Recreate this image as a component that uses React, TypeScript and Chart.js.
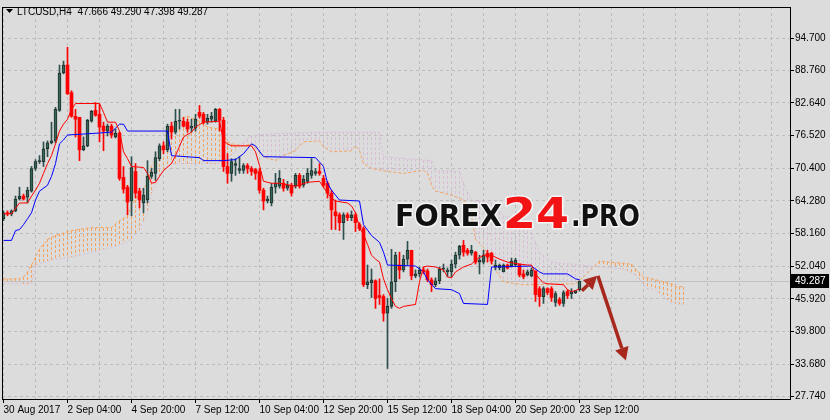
import React, { useEffect, useRef } from 'react';
import { Chart, registerables } from 'chart.js';

Chart.register(...registerables);

// ---------- text ----------
const symbolTitle = 'LTCUSD,H4';
const lastQuote = ['47.666', '49.290', '47.398', '49.287'];
const xTickBars = [0, 16, 32, 48, 64, 80, 96, 112, 128, 144];
const xTickLabels = ['30 Aug 2017', '2 Sep 04:00', '4 Sep 20:00', '7 Sep 12:00', '10 Sep 04:00', '12 Sep 20:00', '15 Sep 12:00', '18 Sep 04:00', '20 Sep 20:00', '23 Sep 12:00'];
const yTickValues = [94.7, 88.76, 82.64, 76.52, 70.4, 64.28, 58.16, 52.04, 45.92, 39.8, 33.68, 27.74];

// ---------- candles (H4) ----------
const opens = [60.95, 62.06, 61.87, 62.42, 64.64, 65.19, 65.01, 66.11, 70.36, 71.65,
  71.65, 74.05, 75.15, 75.52, 81.24, 88.25, 89.73, 84.56, 80.14, 79.95,
  73.86, 74.60, 79.21, 81.24, 80.51, 78.29, 77.37, 78.29, 76.26, 77.00,
  68.70, 66.85, 64.27, 69.80, 66.11, 63.90, 64.45, 68.88, 69.44, 72.20,
  74.60, 73.86, 78.29, 77.18, 79.21, 79.21, 79.03, 77.92, 77.92, 80.87,
  80.51, 79.03, 79.58, 79.21, 81.43, 79.40, 70.73, 69.44, 70.91, 69.99,
  69.99, 70.91, 70.36, 70.17, 69.80, 66.30, 64.27, 63.90, 66.85, 67.04,
  67.59, 66.67, 67.22, 67.04, 69.07, 67.22, 67.96, 69.07, 69.44, 69.80,
  68.51, 67.59, 65.75, 62.24, 61.69, 60.21, 61.69, 61.13, 61.69, 59.84,
  59.10, 48.59, 48.96, 49.33, 46.56, 46.37, 43.24, 44.53, 49.14, 52.28,
  51.35, 53.38, 55.04, 50.25, 50.62, 51.35, 51.17, 49.51, 48.59, 49.33,
  51.54, 50.99, 50.99, 52.46, 54.12, 55.97, 55.04, 54.49, 54.68, 52.83,
  52.83, 54.49, 54.49, 51.91, 51.72, 50.99, 52.28, 52.09, 52.28, 52.46,
  50.62, 50.43, 50.25, 51.17, 47.85, 46.37, 47.85, 47.85, 45.27, 45.82,
  45.08, 47.30, 46.93, 47.11, 47.666];
const highs = [62.42, 62.42, 62.61, 65.19, 66.85, 65.56, 66.85, 70.73, 72.02, 72.76,
  75.34, 75.52, 79.03, 81.80, 89.73, 90.47, 93.05, 84.93, 81.43, 79.95,
  76.26, 79.58, 81.24, 82.72, 82.35, 79.03, 78.66, 78.66, 77.74, 77.18,
  70.73, 67.22, 72.57, 71.28, 66.67, 66.67, 71.83, 70.36, 73.49, 74.97,
  75.34, 78.66, 79.03, 81.43, 81.43, 79.95, 79.58, 79.58, 80.51, 82.17,
  80.87, 80.51, 80.87, 81.61, 81.61, 79.95, 73.13, 72.20, 72.20, 72.57,
  71.28, 71.28, 70.73, 70.36, 70.36, 66.67, 65.19, 67.59, 69.44, 69.99,
  68.33, 67.96, 67.59, 69.44, 69.44, 69.07, 70.36, 72.20, 70.36, 71.28,
  69.07, 67.96, 66.30, 64.45, 62.06, 62.06, 62.06, 62.42, 62.06, 60.21,
  59.47, 52.28, 51.54, 49.51, 49.69, 46.74, 46.00, 55.23, 54.68, 54.68,
  54.12, 56.70, 55.04, 51.35, 51.91, 51.91, 51.54, 49.88, 49.88, 51.91,
  52.46, 51.72, 53.20, 54.68, 55.97, 56.89, 55.41, 55.97, 54.86, 54.12,
  55.04, 55.04, 54.68, 53.20, 52.46, 52.46, 52.46, 53.57, 53.57, 52.46,
  51.35, 51.35, 51.72, 51.17, 48.22, 48.22, 48.03, 48.22, 47.30, 46.19,
  47.48, 47.66, 47.85, 47.48, 49.290];
const lows = [60.58, 61.50, 61.50, 62.24, 64.45, 64.45, 63.90, 65.93, 69.99, 71.28,
  70.73, 72.57, 74.97, 75.15, 81.06, 88.07, 84.19, 79.95, 76.26, 71.83,
  73.68, 74.42, 79.03, 80.14, 75.34, 73.68, 76.45, 76.08, 76.08, 68.14,
  65.75, 61.69, 61.50, 64.82, 62.98, 62.06, 63.90, 68.51, 68.14, 71.83,
  73.13, 73.49, 75.89, 76.82, 77.74, 78.11, 77.18, 77.18, 77.37, 79.77,
  78.66, 78.66, 79.03, 79.03, 77.37, 69.80, 67.59, 67.96, 69.07, 69.44,
  69.44, 69.44, 69.07, 68.33, 65.75, 62.61, 63.90, 63.35, 65.75, 66.67,
  66.11, 66.30, 65.19, 66.67, 66.67, 66.85, 67.59, 68.51, 69.07, 69.07,
  66.85, 64.82, 58.92, 58.92, 58.73, 57.07, 60.58, 60.58, 58.55, 58.73,
  48.22, 47.85, 46.19, 44.16, 44.90, 41.76, 32.90, 44.16, 47.30, 49.69,
  50.99, 52.28, 49.51, 49.88, 50.06, 50.62, 49.14, 47.30, 48.22, 48.77,
  50.99, 50.06, 50.06, 51.72, 53.38, 53.94, 54.12, 54.12, 52.46, 50.62,
  52.46, 52.83, 52.46, 51.35, 51.35, 50.99, 51.54, 51.91, 52.09, 50.06,
  49.69, 50.25, 50.06, 45.45, 44.53, 45.08, 46.74, 45.45, 44.53, 44.71,
  44.53, 46.00, 46.00, 46.93, 47.398];
const closes = [62.06, 61.87, 62.42, 64.64, 65.19, 64.64, 66.30, 70.36, 71.65, 71.83,
  74.05, 75.15, 75.52, 81.43, 88.25, 89.73, 84.38, 80.14, 79.58, 73.86,
  74.60, 79.40, 81.06, 80.32, 78.11, 77.37, 78.29, 76.63, 77.00, 68.51,
  66.48, 64.08, 70.54, 65.75, 64.45, 65.38, 68.88, 69.62, 72.39, 74.60,
  73.86, 78.29, 77.18, 79.21, 79.40, 78.29, 77.74, 78.29, 79.58, 80.14,
  79.03, 79.77, 80.14, 81.43, 79.40, 70.73, 69.44, 71.65, 71.28, 70.36,
  70.91, 70.36, 69.80, 69.44, 66.30, 64.27, 64.64, 66.85, 67.59, 68.51,
  66.67, 67.22, 65.75, 69.07, 67.04, 68.33, 69.44, 69.99, 69.80, 69.44,
  67.22, 65.75, 62.61, 61.50, 60.21, 61.69, 61.13, 61.69, 60.21, 59.10,
  48.59, 49.14, 49.51, 46.00, 46.19, 43.24, 44.53, 49.14, 54.12, 51.35,
  53.38, 55.04, 50.25, 50.62, 51.35, 50.99, 49.51, 48.59, 49.33, 51.54,
  51.72, 51.35, 52.46, 54.12, 55.78, 54.68, 54.49, 55.04, 52.83, 53.20,
  54.12, 53.75, 53.01, 52.28, 52.28, 52.28, 51.72, 53.01, 53.20, 50.43,
  50.06, 50.99, 51.35, 46.74, 46.37, 47.85, 47.11, 46.19, 46.93, 45.08,
  47.11, 46.56, 47.30, 47.48, 49.287];

// ---------- Ichimoku lines (bar index -> price, read at vertices) ----------
const tenkanBars = [0, 2, 4, 6, 7, 8, 9, 10, 11, 12, 13, 14, 15, 16, 17, 18, 24, 25, 26, 28, 29, 30, 31, 32, 35, 36, 37, 38, 39, 40, 42, 43, 45, 47, 48, 50, 54, 55, 56, 57, 62, 63, 64, 65, 67, 69, 73, 76, 79, 81, 82, 83, 86, 87, 88, 89, 90, 91, 92, 93, 94, 95, 96, 97, 98, 99, 100, 103, 104, 105, 106, 108, 110, 111, 112, 113, 115, 117, 118, 120, 122, 124, 126, 129, 131, 132, 133, 134, 135, 136, 140, 141, 142, 143, 144];
const tenkanPrices = [61.87, 61.87, 63.90, 63.90, 65.19, 66.30, 67.59, 69.44, 71.28, 72.76, 74.97, 77.37, 78.66, 79.58, 81.43, 82.53, 82.53, 80.87, 79.03, 79.03, 77.37, 73.49, 72.20, 70.73, 70.54, 69.44, 67.59, 67.77, 68.88, 69.99, 71.28, 72.76, 76.26, 77.18, 78.11, 79.03, 79.21, 75.52, 74.97, 74.60, 74.60, 73.49, 70.91, 67.96, 67.59, 67.59, 67.04, 67.77, 67.96, 65.75, 64.82, 64.27, 63.90, 63.35, 62.06, 59.29, 58.00, 56.15, 54.12, 53.38, 52.83, 49.69, 47.66, 46.00, 44.53, 44.16, 44.53, 44.90, 49.14, 51.91, 52.09, 51.91, 51.35, 50.06, 49.88, 50.99, 51.91, 52.46, 53.20, 54.12, 54.12, 53.38, 52.83, 52.46, 52.28, 52.28, 50.62, 49.69, 48.96, 48.77, 48.59, 47.66, 47.30, 47.48, 47.85];
const kijunBars = [0, 2, 3, 4, 5, 6, 7, 8, 9, 11, 12, 13, 14, 15, 16, 24, 27, 29, 30, 31, 41, 42, 49, 50, 55, 58, 60, 61, 62, 63, 65, 78, 80, 81, 82, 84, 89, 90, 92, 94, 95, 96, 103, 105, 106, 108, 112, 114, 115, 121, 122, 132, 134, 135, 141, 143, 144];
const kijunPrices = [56.89, 56.89, 58.73, 58.92, 59.84, 60.95, 62.06, 64.45, 66.11, 67.22, 68.88, 71.28, 74.97, 75.71, 76.63, 77.00, 77.18, 78.66, 78.66, 77.37, 77.37, 72.76, 72.39, 71.83, 71.83, 72.02, 73.13, 74.05, 74.97, 74.60, 72.57, 72.39, 70.73, 67.59, 66.30, 64.45, 64.27, 59.84, 57.81, 56.52, 54.68, 52.28, 52.09, 50.99, 49.51, 47.85, 47.66, 46.93, 45.08, 44.90, 51.91, 52.09, 50.99, 50.62, 50.62, 49.69, 49.51];
const spanABars = [0, 4, 5, 6, 7, 8, 9, 11, 13, 17, 22, 27, 29, 31, 32, 34, 36, 37, 39, 41, 42, 44, 46, 49, 51, 54, 55, 56, 57, 60, 62, 65, 68, 70, 73, 75, 79, 80, 82, 87, 88, 89, 90, 92, 96, 100, 105, 106, 107, 108, 112, 115, 117, 118, 120, 122, 123, 125, 130, 143, 145, 147, 149, 157, 158, 160, 164, 167, 168, 170];
const spanAPrices = [49.69, 49.69, 50.06, 50.99, 52.28, 53.75, 55.23, 57.07, 57.81, 58.73, 59.29, 59.29, 60.58, 61.50, 63.35, 65.75, 67.59, 70.73, 73.13, 75.52, 77.18, 79.58, 80.14, 79.21, 78.11, 77.74, 76.82, 75.34, 74.97, 74.60, 74.97, 72.57, 71.83, 72.76, 73.68, 75.34, 75.52, 74.42, 73.49, 73.68, 74.60, 73.68, 71.28, 70.36, 69.80, 69.44, 69.99, 69.44, 67.22, 66.11, 65.38, 64.45, 61.50, 57.07, 55.60, 53.20, 51.35, 49.14, 48.59, 48.77, 50.06, 51.54, 53.01, 52.46, 51.54, 50.06, 49.33, 48.77, 48.22, 48.22];
const spanBBars = [0, 7, 8, 12, 17, 24, 29, 32, 34, 36, 37, 39, 41, 42, 55, 60, 62, 66, 72, 80, 94, 95, 107, 108, 114, 115, 117, 122, 125, 131, 133, 134, 137, 147, 155, 158, 161, 163, 167, 170];
const spanBPrices = [48.77, 48.77, 52.28, 53.20, 53.75, 55.04, 55.97, 57.07, 58.92, 62.06, 65.75, 68.88, 70.73, 71.28, 71.28, 75.34, 76.45, 76.82, 77.00, 77.18, 77.18, 72.57, 71.83, 69.99, 69.80, 67.59, 64.45, 63.90, 61.50, 60.58, 56.52, 54.68, 52.83, 52.09, 51.54, 50.43, 47.85, 47.66, 45.08, 44.90];

// ---------- forecast arrows (bar index / price anchors) ----------
const arrowStartBars = [144.6, 148.6];
const arrowStartPrices = [47.48, 50.25];
const arrowEndBars = [148.4, 155.6];
const arrowEndPrices = [50.25, 34.38];

const BG = '#DCDCDC';
const GRID = '#BDBDBD';
const SPAN_A_COLOR = '#F4A460';
const SPAN_B_COLOR = '#D8BFD8';
const SPAN_A_INDEX = 5;
const SPAN_B_INDEX = 4;

export default function App() {
  const canvasRef = useRef<HTMLCanvasElement | null>(null);

  useEffect(() => {
    const canvas = canvasRef.current;
    if (!canvas) return;

    const bull = closes.map((c, i) => c >= opens[i]);
    const bodyData = opens.map((o, i) => ({ x: i, y: [o, closes[i]] }));
    const wickData = opens.map((_, i) => ({ x: i, y: [lows[i], highs[i]] }));
    const toPts = (bars: number[], prices: number[]) => bars.map((b, k) => ({ x: b, y: prices[k] }));
    const lastBar = Math.max(spanABars[spanABars.length - 1], spanBBars[spanBBars.length - 1]);

    const gridTicks: number[] = [];
    for (let v = 0; v <= 192; v += 8) gridTicks.push(v);

    // y pixel on a drawn polyline (Chart.js point elements) at pixel column px
    const yOnLine = (pts: any[], px: number) => {
      if (!pts.length) return NaN;
      if (px <= pts[0].x) return pts[0].y;
      for (let k = 1; k < pts.length; k++) {
        const a = pts[k - 1];
        const b = pts[k];
        if (px <= b.x) {
          const t = b.x === a.x ? 1 : (px - a.x) / (b.x - a.x);
          return a.y + (b.y - a.y) * t;
        }
      }
      return pts[pts.length - 1].y;
    };

    const overlay = {
      id: 'mt4overlay',
      beforeDraw(chart: any) {
        const c = chart.ctx;
        c.save();
        c.fillStyle = BG;
        c.fillRect(0, 0, chart.width, chart.height);
        c.restore();
      },
      beforeDatasetsDraw(chart: any) {
        const c = chart.ctx;
        const { left, right, top, bottom } = chart.chartArea;
        const xs = chart.scales.x;
        c.save();
        c.beginPath();
        c.rect(left, top, right - left, bottom - top);
        c.clip();
        // Kumo hatch between Senkou Span A and B (follows the library-drawn lines)
        const ptsA = chart.getDatasetMeta(SPAN_A_INDEX).data;
        const ptsB = chart.getDatasetMeta(SPAN_B_INDEX).data;
        c.lineWidth = 1;
        c.setLineDash([3, 2]);
        for (let k = 0; k <= lastBar; k++) {
          const px = xs.getPixelForValue(k);
          const ya = yOnLine(ptsA, px);
          const yb = yOnLine(ptsB, px);
          if (!isFinite(ya) || !isFinite(yb)) continue;
          c.strokeStyle = ya <= yb ? SPAN_A_COLOR : SPAN_B_COLOR;
          const x = Math.floor(px) + 0.5;
          c.beginPath();
          c.moveTo(x, Math.round(Math.min(ya, yb)));
          c.lineTo(x, Math.round(Math.max(ya, yb)));
          c.stroke();
        }
        c.setLineDash([]);
        // current price line
        const y = Math.round(chart.scales.y.getPixelForValue(closes[closes.length - 1])) + 0.5;
        c.strokeStyle = '#C0C0C0';
        c.beginPath();
        c.moveTo(left, y);
        c.lineTo(right, y);
        c.stroke();
        c.restore();
      },
      afterDraw(chart: any) {
        const c = chart.ctx;
        const { left, top, right, bottom } = chart.chartArea;
        const xs = chart.scales.x;
        const ys = chart.scales.y;
        c.save();
        // frame left / top
        c.strokeStyle = '#000';
        c.lineWidth = 1;
        c.beginPath();
        c.moveTo(left + 0.5, top);
        c.lineTo(left + 0.5, bottom);
        c.moveTo(left, top + 0.5);
        c.lineTo(right, top + 0.5);
        c.stroke();

        // title
        c.fillStyle = '#000';
        c.beginPath();
        c.moveTo(6, 9);
        c.lineTo(13, 9);
        c.lineTo(9.5, 13);
        c.closePath();
        c.fill();
        c.font = '10px "Liberation Sans"';
        c.textBaseline = 'alphabetic';
        c.textAlign = 'left';
        c.fillText(symbolTitle + '  ' + lastQuote.join(' '), 17, 14.5);

        // watermark
        const stretched = (text: string, x: number, base: number, size: number, w: number, color: string) => {
          c.font = 'bold ' + size + 'px "DejaVu Sans"';
          const m = c.measureText(text).width;
          c.save();
          c.translate(x, base);
          c.scale(w / m, 1);
          c.lineJoin = 'round';
          c.strokeStyle = 'rgba(246,246,246,0.95)';
          c.lineWidth = 3;
          c.strokeText(text, 0, 0);
          c.fillStyle = color;
          c.fillText(text, 0, 0);
          c.restore();
        };
        stretched('FOREX', 395, 226, 30, 107, '#111111');
        stretched('24', 503, 228, 42, 66, '#F21414');
        stretched('.PRO', 571, 226, 30, 69, '#111111');

        // arrows
        const arrowColor = '#A8281E';
        for (let k = 0; k < arrowStartBars.length; k++) {
          const x1 = xs.getPixelForValue(arrowStartBars[k]);
          const y1 = ys.getPixelForValue(arrowStartPrices[k]);
          const x2 = xs.getPixelForValue(arrowEndBars[k]);
          const y2 = ys.getPixelForValue(arrowEndPrices[k]);
          const ang = Math.atan2(y2 - y1, x2 - x1);
          const hl = 13;
          const hw = 7;
          const bx = x2 - hl * Math.cos(ang);
          const by = y2 - hl * Math.sin(ang);
          c.strokeStyle = arrowColor;
          c.fillStyle = arrowColor;
          c.lineWidth = 3.5;
          c.lineCap = 'butt';
          c.beginPath();
          c.moveTo(x1, y1);
          c.lineTo(bx, by);
          c.stroke();
          c.beginPath();
          c.moveTo(x2, y2);
          c.lineTo(bx + hw * Math.sin(ang), by - hw * Math.cos(ang));
          c.lineTo(bx - hw * Math.sin(ang), by + hw * Math.cos(ang));
          c.closePath();
          c.fill();
        }

        // current price tag
        const py = Math.round(ys.getPixelForValue(closes[closes.length - 1]));
        c.fillStyle = '#000';
        c.fillRect(right + 1, py - 7, 38, 14);
        c.fillStyle = '#FFF';
        c.font = '10px "Liberation Sans"';
        c.textBaseline = 'middle';
        c.fillText(lastQuote[3], right + 5, py + 0.5);
        c.restore();
      },
    };

    const chart = new Chart(canvas, {
      type: 'bar',
      data: {
        datasets: [
          {
            type: 'line',
            label: 'Tenkan-sen',
            data: toPts(tenkanBars, tenkanPrices),
            borderColor: '#FF0000',
            borderWidth: 1,
            pointRadius: 0,
            tension: 0,
            fill: false,
            order: 0,
          },
          {
            type: 'line',
            label: 'Kijun-sen',
            data: toPts(kijunBars, kijunPrices),
            borderColor: '#0000FF',
            borderWidth: 1,
            pointRadius: 0,
            tension: 0,
            fill: false,
            order: 1,
          },
          {
            type: 'bar',
            label: 'Body',
            data: bodyData as any,
            backgroundColor: bull.map((b) => (b ? '#35665A' : '#FF0000')),
            borderColor: bull.map((b) => (b ? '#1E2F2B' : '#FF0000')),
            borderWidth: bull.map((b) => (b ? 1 : 0)),
            borderSkipped: false,
            barThickness: 3,
            minBarLength: 1,
            grouped: false,
            order: 2,
          },
          {
            type: 'bar',
            label: 'Wick',
            data: wickData as any,
            backgroundColor: bull.map((b) => (b ? '#2F4F4F' : '#FF0000')),
            borderWidth: 0,
            barThickness: 1,
            minBarLength: 1,
            grouped: false,
            order: 3,
          },
          {
            type: 'line',
            label: 'Senkou Span B',
            data: toPts(spanBBars, spanBPrices),
            borderColor: SPAN_B_COLOR,
            borderWidth: 1,
            borderDash: [2, 2],
            pointRadius: 0,
            tension: 0,
            fill: false,
            order: 4,
          },
          {
            type: 'line',
            label: 'Senkou Span A',
            data: toPts(spanABars, spanAPrices),
            borderColor: SPAN_A_COLOR,
            borderWidth: 1,
            borderDash: [3, 2],
            pointRadius: 0,
            tension: 0,
            fill: false,
            order: 5,
          },
        ] as any,
      },
      options: {
        animation: false,
        responsive: true,
        maintainAspectRatio: false,
        devicePixelRatio: 1,
        events: [],
        layout: { padding: { left: 2, top: 1, right: 0, bottom: 0 } },
        plugins: { legend: { display: false }, tooltip: { enabled: false }, title: { display: false } },
        scales: {
          x: {
            type: 'linear',
            position: 'bottom',
            min: -0.375,
            max: 196.625,
            offset: false,
            afterFit: (s: any) => { s.height = 21; },
            afterBuildTicks: (s: any) => { s.ticks = gridTicks.map((v) => ({ value: v })); },
            ticks: {
              autoSkip: false,
              maxRotation: 0,
              minRotation: 0,
              align: 'start',
              padding: 1,
              color: '#000',
              font: { family: 'Liberation Sans', size: 10 },
              callback: (v: any) => {
                const k = xTickBars.indexOf(Number(v));
                return k >= 0 ? xTickLabels[k] : '';
              },
            },
            grid: {
              color: GRID,
              lineWidth: 1,
              offset: false,
              tickLength: 4,
              tickBorderDash: [],
              tickColor: (ctx: any) => (ctx.tick && xTickBars.indexOf(ctx.tick.value) >= 0 ? '#000' : 'rgba(0,0,0,0)'),
            },
            border: { display: true, color: '#000', width: 1, dash: [3, 3] },
          },
          y: {
            type: 'linear',
            position: 'right',
            min: 27.187,
            max: 100.603,
            afterFit: (s: any) => { s.width = 40; },
            afterBuildTicks: (s: any) => { s.ticks = yTickValues.map((v) => ({ value: v })); },
            ticks: {
              autoSkip: false,
              padding: 1,
              color: '#000',
              font: { family: 'Liberation Sans', size: 10 },
              callback: (v: any) => Number(v).toFixed(3),
            },
            grid: { color: GRID, lineWidth: 1, tickLength: 4, tickColor: '#000', tickBorderDash: [] },
            border: { display: true, color: '#000', width: 1, dash: [3, 3] },
          },
        },
      } as any,
      plugins: [overlay],
    });
    return () => chart.destroy();
  }, []);

  return (
    <div style={{ position: 'fixed', left: 0, top: 0, width: 830, height: 420, background: BG }}>
      <canvas ref={canvasRef} />
    </div>
  );
}
